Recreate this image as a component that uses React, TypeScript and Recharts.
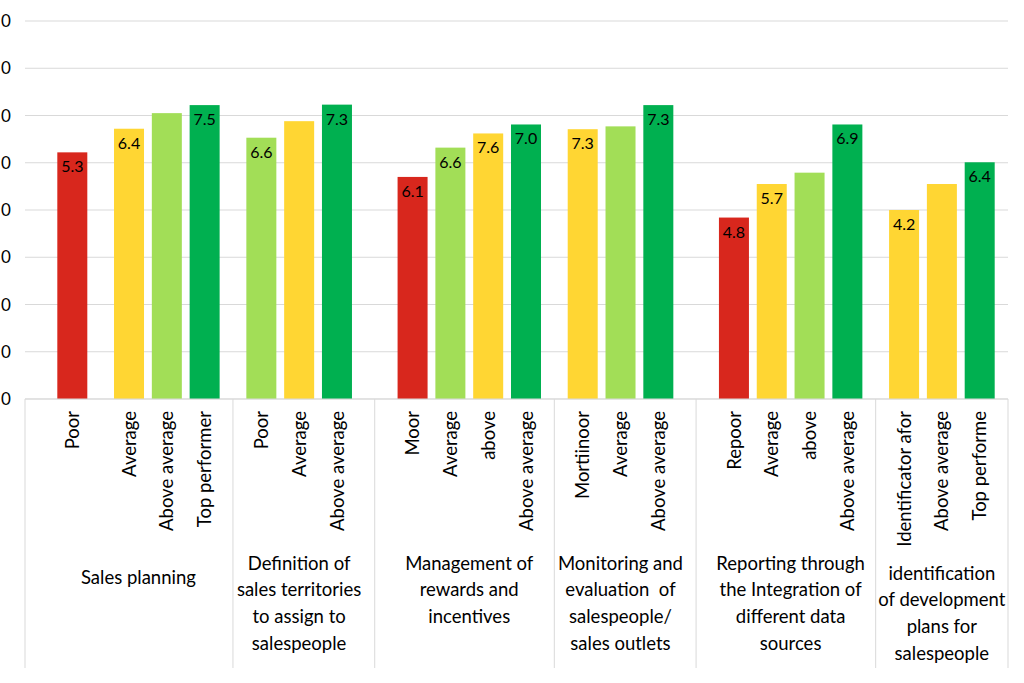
import React from 'react';
import { BarChart, Bar, XAxis, YAxis, CartesianGrid, Cell, LabelList } from 'recharts';

// ---- data ----
const groupLines: string[][] = [
  ['Sales planning'],
  ['Definition of', 'sales territories', 'to assign to', 'salespeople'],
  ['Management of', 'rewards and', 'incentives'],
  ['Monitoring and', 'evaluation  of', 'salespeople/', 'sales outlets'],
  ['Reporting through', 'the Integration of', 'different data', 'sources'],
  ['identification', 'of development', 'plans for', 'salespeople'],
];

const levelLabels: string[][] = [
  ['Poor', 'Average', 'Above average', 'Top performer'],
  ['Poor', 'Average', 'Above average'],
  ['Moor', 'Average', 'above', 'Above average'],
  ['Mortiinoor', 'Average', 'Above average'],
  ['Repoor', 'Average', 'above', 'Above average'],
  ['Identificator afor', 'Above average', 'Top performe'],
];

const barValues: number[][] = [
  [5.22, 5.72, 6.05, 6.22],
  [5.53, 5.88, 6.23],
  [4.7, 5.32, 5.62, 5.81],
  [5.71, 5.77, 6.22],
  [3.84, 4.55, 4.79, 5.81],
  [4.0, 4.55, 5.01],
];

const valueLabels: string[][] = [
  ['5.3', '6.4', '', '7.5'],
  ['6.6', '', '7.3'],
  ['6.1', '6.6', '7.6', '7.0'],
  ['7.3', '', '7.3'],
  ['4.8', '5.7', '', '6.9'],
  ['4.2', '', '6.4'],
];

const barTones: string[][] = [
  ['red', 'yellow', 'lightgreen', 'green'],
  ['lightgreen', 'yellow', 'green'],
  ['red', 'lightgreen', 'yellow', 'green'],
  ['yellow', 'lightgreen', 'green'],
  ['red', 'yellow', 'lightgreen', 'green'],
  ['yellow', 'yellow', 'green'],
];

// empty (half-width) category slots before each bar, and after the last one
const emptySlotsBefore: number[][] = [
  [2, 2, 1, 1],
  [2, 1, 1],
  [3, 1, 1, 1],
  [2, 1, 1],
  [3, 1, 1, 1],
  [2, 1, 1],
];
const emptySlotsAfter = 1;

const yTicks: number[] = [0, 1, 2, 3, 4, 5, 6, 7, 8];
// only the last digit of each y tick label is visible in the reference
const yTickLabels: string[] = ['0', '0', '0', '0', '0', '0', '0', '0', '0'];

// ---- styles ----
const palette: Record<string, string> = {
  red: '#D8271D',
  yellow: '#FFD633',
  lightgreen: '#A2DE57',
  green: '#00B050',
  none: 'transparent',
};

const W = 1024;
const H = 683;
const Y_AXIS_W = 25;
const RIGHT = 16;
const TOP = 21;
const X_AXIS_H = 284;
const AXIS_Y = H - X_AXIS_H;
const FONT = "Lato, 'Open Sans', sans-serif";
const GRID = '#D9D9D9';
const TEXT_SIZE = 18.5;
const BAR_W = 30;

type Row = {
  key: string;
  group: number;
  level: string;
  value: number | null;
  label: string;
  tone: string;
  spacer: boolean;
};

const rows: Row[] = [];
const firstBar: number[] = [];
const lastBar: number[] = [];
const spacer = (k: string, g: number): Row => ({ key: k, group: g, level: '', value: null, label: '', tone: 'none', spacer: true });
groupLines.forEach((_, g) => {
  levelLabels[g].forEach((lv, i) => {
    for (let k = 0; k < emptySlotsBefore[g][i]; k++) rows.push(spacer(`gap-${g}-${i}-${k}`, g));
    if (i === 0) firstBar[g] = rows.length;
    rows.push({
      key: `bar-${g}-${i}`,
      group: g,
      level: lv,
      value: barValues[g][i],
      label: valueLabels[g][i],
      tone: barTones[g][i],
      spacer: false,
    });
    lastBar[g] = rows.length - 1;
  });
});
for (let k = 0; k < emptySlotsAfter; k++) rows.push(spacer(`gap-end-${k}`, groupLines.length - 1));

const SLOT_W = (W - Y_AXIS_W - RIGHT) / rows.length;

function BarShape(props: any) {
  const { x, y, width, height, fill } = props;
  if (!height || height <= 0) return null;
  const cx = x + width / 2;
  return <rect x={cx - BAR_W / 2} y={y} width={BAR_W} height={height} fill={fill} />;
}

function ValueLabel(props: any) {
  const { x, y, width, value } = props;
  if (!value) return null;
  return (
    <text x={x + width / 2} y={y + 8} dy="0.75em" textAnchor="middle" fontFamily={FONT} fontSize={16} fill="#000">
      {value}
    </text>
  );
}

function XTick(props: any) {
  const { x, payload } = props;
  const i: number = props.index ?? payload.index;
  const row = rows[i];
  if (!row) return null;
  const g = row.group;
  const out: React.ReactNode[] = [];
  const sepBottom = 668;
  if (!row.spacer) {
    const ty = AXIS_Y + 12;
    out.push(
      <text
        key="lv"
        x={x}
        y={ty}
        dy="0.36em"
        transform={`rotate(-90, ${x}, ${ty})`}
        textAnchor="end"
        fontFamily={FONT}
        fontSize={TEXT_SIZE}
        fill="#000"
      >
        {row.level}
      </text>
    );
  }
  if (i === firstBar[g]) {
    const cx = x + ((lastBar[g] - i) * SLOT_W) / 2;
    const longest = Math.max(...levelLabels[g].map((s) => s.length));
    const n = groupLines[g].length;
    const top = longest > 14 ? 573 : n === 1 ? 577 : 563;
    out.push(
      <text key="grp" x={cx} y={top} textAnchor="middle" fontFamily={FONT} fontSize={TEXT_SIZE} fill="#000" style={{ whiteSpace: 'pre' }}>
        {groupLines[g].map((ln, k) => (
          <tspan key={k} x={cx} y={top + k * 26.7} dy="0.36em">
            {ln}
          </tspan>
        ))}
      </text>
    );
    if (g > 0) {
      const sx = x - ((i - lastBar[g - 1]) * SLOT_W) / 2;
      out.push(<line key="sep" x1={sx} x2={sx} y1={AXIS_Y} y2={sepBottom} stroke={GRID} strokeWidth={1} />);
    }
  }
  if (i === 0) {
    const lx = x - SLOT_W / 2;
    out.push(<line key="l" x1={lx} x2={lx} y1={AXIS_Y} y2={sepBottom} stroke={GRID} strokeWidth={1} />);
  }
  if (i === rows.length - 1) {
    const rx = x + SLOT_W / 2;
    out.push(<line key="r" x1={rx} x2={rx} y1={AXIS_Y} y2={sepBottom} stroke={GRID} strokeWidth={1} />);
  }
  return <g>{out}</g>;
}

function YTick(props: any) {
  const { y, payload } = props;
  const idx = yTicks.indexOf(Number(payload.value));
  return (
    <text x={1} y={y} dy="0.36em" textAnchor="start" fontFamily={FONT} fontSize={17} fill="#000">
      {yTickLabels[idx] ?? ''}
    </text>
  );
}

export default function App() {
  return (
    <div style={{ position: 'absolute', left: 0, top: 0, width: W, height: H, background: '#fff' }}>
      <BarChart
        width={W}
        height={H}
        data={rows}
        margin={{ top: TOP, right: RIGHT, bottom: 0, left: 0 }}
        barCategoryGap={0}
      >
        <CartesianGrid vertical={false} stroke={GRID} strokeWidth={1} />
        <XAxis
          dataKey="key"
          height={X_AXIS_H}
          interval={0}
          tickSize={0}
          tickMargin={0}
          tickLine={false}
          axisLine={{ stroke: GRID }}
          tick={<XTick />}
        />
        <YAxis
          width={Y_AXIS_W}
          domain={[0, 8]}
          ticks={yTicks}
          axisLine={false}
          tickLine={false}
          tick={<YTick />}
        />
        <Bar dataKey="value" isAnimationActive={false} shape={<BarShape />}>
          {rows.map((r) => (
            <Cell key={r.key} fill={palette[r.tone]} />
          ))}
          <LabelList dataKey="label" content={<ValueLabel />} />
        </Bar>
      </BarChart>
    </div>
  );
}
